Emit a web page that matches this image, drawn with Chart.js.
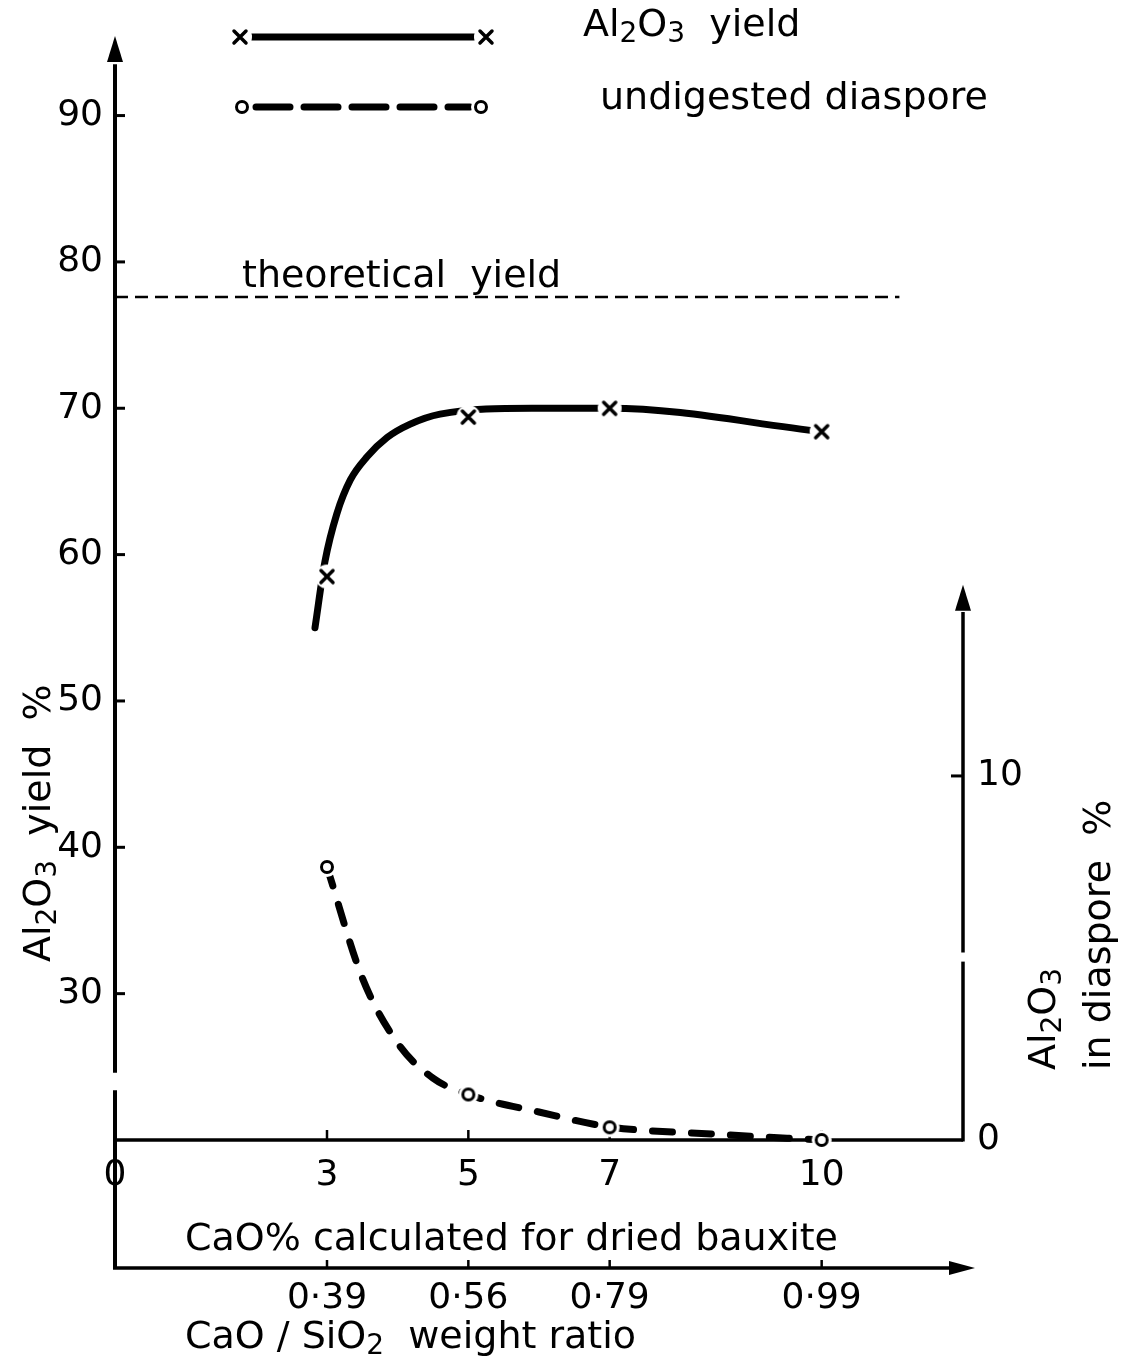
<!DOCTYPE html>
<html>
<head>
<meta charset="utf-8">
<script src="https://cdn.jsdelivr.net/npm/chart.js@4.4.1/dist/chart.umd.min.js"></script>
<style>
  html, body { margin: 0; padding: 0; background: #fff; }
  #wrap { width: 1127px; height: 1364px; }
</style>
</head>
<body>
<div id="wrap"><canvas id="chart"></canvas></div>
<script>
// measured points (markers)
const caoPercent = [3, 5, 7, 10]
const ratioLabels = ["0·39", "0·56", "0·79", "0·99"]
const yieldValues = [58.5, 69.4, 70.0, 68.4]
const diasporeValues = [7.5, 1.25, 0.35, 0]

// hand drawn curves
const yieldCurveCao = [2.83, 2.97, 3.14, 3.33, 3.57, 3.85, 4.17, 4.6, 5.9, 7.0, 10.0]
const yieldCurveValues = [55.0, 59.5, 62.8, 65.1, 66.7, 68.0, 68.9, 69.6, 70.0, 70.0, 68.4]
const diasporeCurveCao = [3.0, 3.5, 4.0, 4.5, 5.0, 6.0, 7.0, 8.5, 10.0]
const diasporeCurveValues = [7.5, 4.45, 2.66, 1.7, 1.25, 0.77, 0.36, 0.16, 0]

const theoreticalYield = 77.6
const theoreticalFrom = 0
const theoreticalTo = 11.1

const bottomTicks = [0, 3, 5, 7, 10]
const leftTicks = [30, 40, 50, 60, 70, 80, 90]
const rightTicks = [0, 10]

const FONT = "'DejaVu Sans', sans-serif"
Chart.defaults.font.family = FONT
Chart.defaults.color = '#000'

const crossMarker = () => {
    const c = document.createElement('canvas')
    c.width = c.height = 26
    const g = c.getContext('2d')
    g.fillStyle = '#fff'
    g.beginPath(); g.arc(13, 13, 12, 0, Math.PI * 2); g.fill()
    g.strokeStyle = '#000'; g.lineWidth = 3.5; g.lineCap = 'round'
    g.beginPath()
    g.moveTo(7, 7); g.lineTo(19, 19)
    g.moveTo(19, 7); g.lineTo(7, 19)
    g.stroke()
    return c
}

const ringMarker = () => {
    const c = document.createElement('canvas')
    c.width = c.height = 24
    const g = c.getContext('2d')
    g.fillStyle = '#fff'
    g.beginPath(); g.arc(12, 12, 10, 0, Math.PI * 2); g.fill()
    g.strokeStyle = '#000'; g.lineWidth = 3
    g.beginPath(); g.arc(12, 12, 5.5, 0, Math.PI * 2); g.stroke()
    return c
}

const xMark = crossMarker()
const oMark = ringMarker()

const pts = (xs, ys) => xs.map((v, i) => ({x: v, y: ys[i]}))

const arrow = (ctx, x, y, dir) => {
    // (x, y) is the tip
    ctx.beginPath()
    if (dir === 'up') {
        ctx.moveTo(x, y); ctx.lineTo(x - 8, y + 26); ctx.lineTo(x + 8, y + 26)
    } else {
        ctx.moveTo(x, y); ctx.lineTo(x - 26, y - 7); ctx.lineTo(x - 26, y + 7)
    }
    ctx.closePath()
    ctx.fill()
}

const line = (ctx, x1, y1, x2, y2, w) => {
    ctx.lineWidth = w
    ctx.beginPath(); ctx.moveTo(x1, y1); ctx.lineTo(x2, y2); ctx.stroke()
}

// text with subscripts, parts starting with '_' are subscript
const richText = (ctx, parts, x, y, size) => {
    let cx = x
    parts.forEach(p => {
        const sub = p.startsWith('_')
        const t = sub ? p.slice(1) : p
        ctx.font = (sub ? Math.round(size * 0.74) : size) + 'px ' + FONT
        ctx.fillText(t, cx, y + (sub ? size * 0.24 : 0))
        cx += ctx.measureText(t).width
    })
}

const rotatedText = (ctx, parts, x, y, size) => {
    ctx.save()
    ctx.translate(x, y)
    ctx.rotate(-Math.PI / 2)
    richText(ctx, parts, 0, 0, size)
    ctx.restore()
}

const drawing = {
    id: 'drawing',
    beforeDatasetsDraw(chart) {
        const {ctx, scales: {x, y, y2, x2}} = chart
        ctx.save()
        ctx.strokeStyle = '#000'
        ctx.fillStyle = '#000'

        const x0 = x.getPixelForValue(0)
        const xr = x.getPixelForValue(12)
        const yb = y.getPixelForValue(20)
        const yr = x2.top

        // left axis, broken just above the baseline
        line(ctx, x0, y.getPixelForValue(93.5), x0, y.getPixelForValue(24.6), 4)
        line(ctx, x0, y.getPixelForValue(23.4), x0, yr, 4)
        arrow(ctx, x0, chart.chartArea.top - 2, 'up')
        leftTicks.forEach(v => {
            const p = y.getPixelForValue(v)
            line(ctx, x0, p, x0 + 10, p, 3)
        })

        // bottom axis
        line(ctx, x0, yb, xr, yb, 3.5)
        caoPercent.forEach(v => {
            const p = x.getPixelForValue(v)
            line(ctx, p, yb, p, yb - 10, 2.5)
        })

        // right axis
        line(ctx, xr, yb + 1.5, xr, y2.getPixelForValue(4.9), 3.5)
        line(ctx, xr, y2.getPixelForValue(5.15), xr, y2.getPixelForValue(14.5), 3.5)
        arrow(ctx, xr, y2.getPixelForValue(15.25), 'up')
        rightTicks.filter(v => v > 0).forEach(v => {
            const p = y2.getPixelForValue(v)
            line(ctx, xr, p, xr - 12, p, 3)
        })

        // ratio axis
        line(ctx, x0 - 2, yr, xr + 2, yr, 3.5)
        arrow(ctx, xr + 12, yr, 'right')
        caoPercent.forEach(v => {
            const p = x2.getPixelForValue(v)
            line(ctx, p, yr, p, yr - 8, 2.5)
        })
        ctx.restore()
    },
    afterDatasetsDraw(chart) {
        const {ctx, scales: {y}} = chart
        ctx.save()
        ctx.fillStyle = '#000'
        ctx.strokeStyle = '#000'

        // legend
        ctx.lineCap = 'round'
        line(ctx, 252, 37, 474, 37, 7)
        ctx.drawImage(xMark, 240 - 13, 37 - 13)
        ctx.drawImage(xMark, 486 - 13, 37 - 13)
        ctx.setLineDash([34, 14])
        line(ctx, 256, 107, 470, 107, 7)
        ctx.setLineDash([])
        ctx.drawImage(oMark, 242 - 12, 107 - 12)
        ctx.drawImage(oMark, 481 - 12, 107 - 12)

        ctx.textAlign = 'left'
        ctx.textBaseline = 'middle'
        richText(ctx, ['Al', '_2', 'O', '_3', '  yield'], 583, 26, 38)
        richText(ctx, ['undigested diaspore'], 600, 99, 38)

        // theoretical yield label
        ctx.textBaseline = 'alphabetic'
        richText(ctx, ['theoretical  yield'], 242, y.getPixelForValue(theoreticalYield) - 10, 38)

        // axis titles
        ctx.textBaseline = 'middle'
        richText(ctx, ['CaO% calculated for dried bauxite'], 185, 1240, 38)
        richText(ctx, ['CaO / SiO', '_2', '  weight ratio'], 185, 1338, 38)
        rotatedText(ctx, ['Al', '_2', 'O', '_3', '  yield  %'], 40, 962, 38)
        rotatedText(ctx, ['Al', '_2', 'O', '_3'], 1045, 1070, 38)
        rotatedText(ctx, ['in diaspore  %'], 1100, 1070, 38)
        ctx.restore()
    }
}

const config = {
    type: 'scatter',
    data: {
        datasets: [
            {
                label: 'Al₂O₃ yield',
                data: pts(yieldCurveCao, yieldCurveValues),
                yAxisID: 'y',
                showLine: true,
                borderColor: '#000',
                borderWidth: 7,
                borderCapStyle: 'round',
                cubicInterpolationMode: 'monotone',
                pointRadius: 0,
                order: 1,
                clip: false
            },
            {
                label: 'Al₂O₃ yield points',
                data: pts(caoPercent, yieldValues),
                yAxisID: 'y',
                showLine: false,
                pointStyle: xMark,
                pointRadius: 10,
                pointHoverRadius: 10,
                order: 0,
                clip: false
            },
            {
                label: 'undigested diaspore',
                data: pts(diasporeCurveCao, diasporeCurveValues),
                yAxisID: 'y2',
                showLine: true,
                borderColor: '#000',
                borderWidth: 7,
                borderDash: [20, 19],
                borderCapStyle: 'round',
                cubicInterpolationMode: 'monotone',
                pointRadius: 0,
                order: 1,
                clip: false
            },
            {
                label: 'undigested diaspore points',
                data: pts(caoPercent, diasporeValues),
                yAxisID: 'y2',
                showLine: false,
                pointStyle: oMark,
                pointRadius: 10,
                pointHoverRadius: 10,
                order: 0,
                clip: false
            },
            {
                label: 'theoretical yield',
                data: pts([theoreticalFrom, theoreticalTo], [theoreticalYield, theoreticalYield]),
                yAxisID: 'y',
                showLine: true,
                borderColor: '#000',
                borderWidth: 2.5,
                borderDash: [13, 7],
                pointRadius: 0,
                order: 1,
                clip: false
            }
        ]
    },
    options: {
        responsive: true,
        maintainAspectRatio: false,
        animation: false,
        events: [],
        layout: {padding: {top: 38, right: 94, bottom: 0, left: 0}},
        plugins: {legend: {display: false}, tooltip: {enabled: false}},
        scales: {
            x: {
                type: 'linear',
                position: 'bottom',
                min: 0, max: 12,
                weight: 0,
                afterFit: s => { s.height = 128 },
                afterBuildTicks: s => { s.ticks = bottomTicks.map(v => ({value: v})) },
                grid: {display: false, drawTicks: false},
                border: {display: false},
                ticks: {font: {size: 36}, padding: 14, autoSkip: false, maxRotation: 0}
            },
            x2: {
                type: 'linear',
                position: 'bottom',
                min: 0, max: 12,
                weight: 1,
                afterFit: s => { s.height = 96 },
                afterBuildTicks: s => { s.ticks = caoPercent.map(v => ({value: v})) },
                grid: {display: false, drawTicks: false},
                border: {display: false},
                ticks: {
                    font: {size: 36}, padding: 9, autoSkip: false, maxRotation: 0,
                    callback: v => ratioLabels[caoPercent.indexOf(v)]
                }
            },
            y: {
                type: 'linear',
                position: 'left',
                min: 20, max: 95.3,
                afterFit: s => { s.width = 115 },
                afterBuildTicks: s => { s.ticks = leftTicks.map(v => ({value: v})) },
                grid: {display: false, drawTicks: false},
                border: {display: false},
                ticks: {font: {size: 36}, padding: 12}
            },
            y2: {
                type: 'linear',
                position: 'right',
                min: 0, max: 30.27,
                afterFit: s => { s.width = 70 },
                afterBuildTicks: s => { s.ticks = rightTicks.map(v => ({value: v})) },
                grid: {display: false, drawTicks: false},
                border: {display: false},
                ticks: {font: {size: 36}, padding: 14}
            }
        }
    },
    plugins: [drawing]
}

const myChart = new Chart(document.getElementById('chart'), config)
</script>
</body>
</html>
